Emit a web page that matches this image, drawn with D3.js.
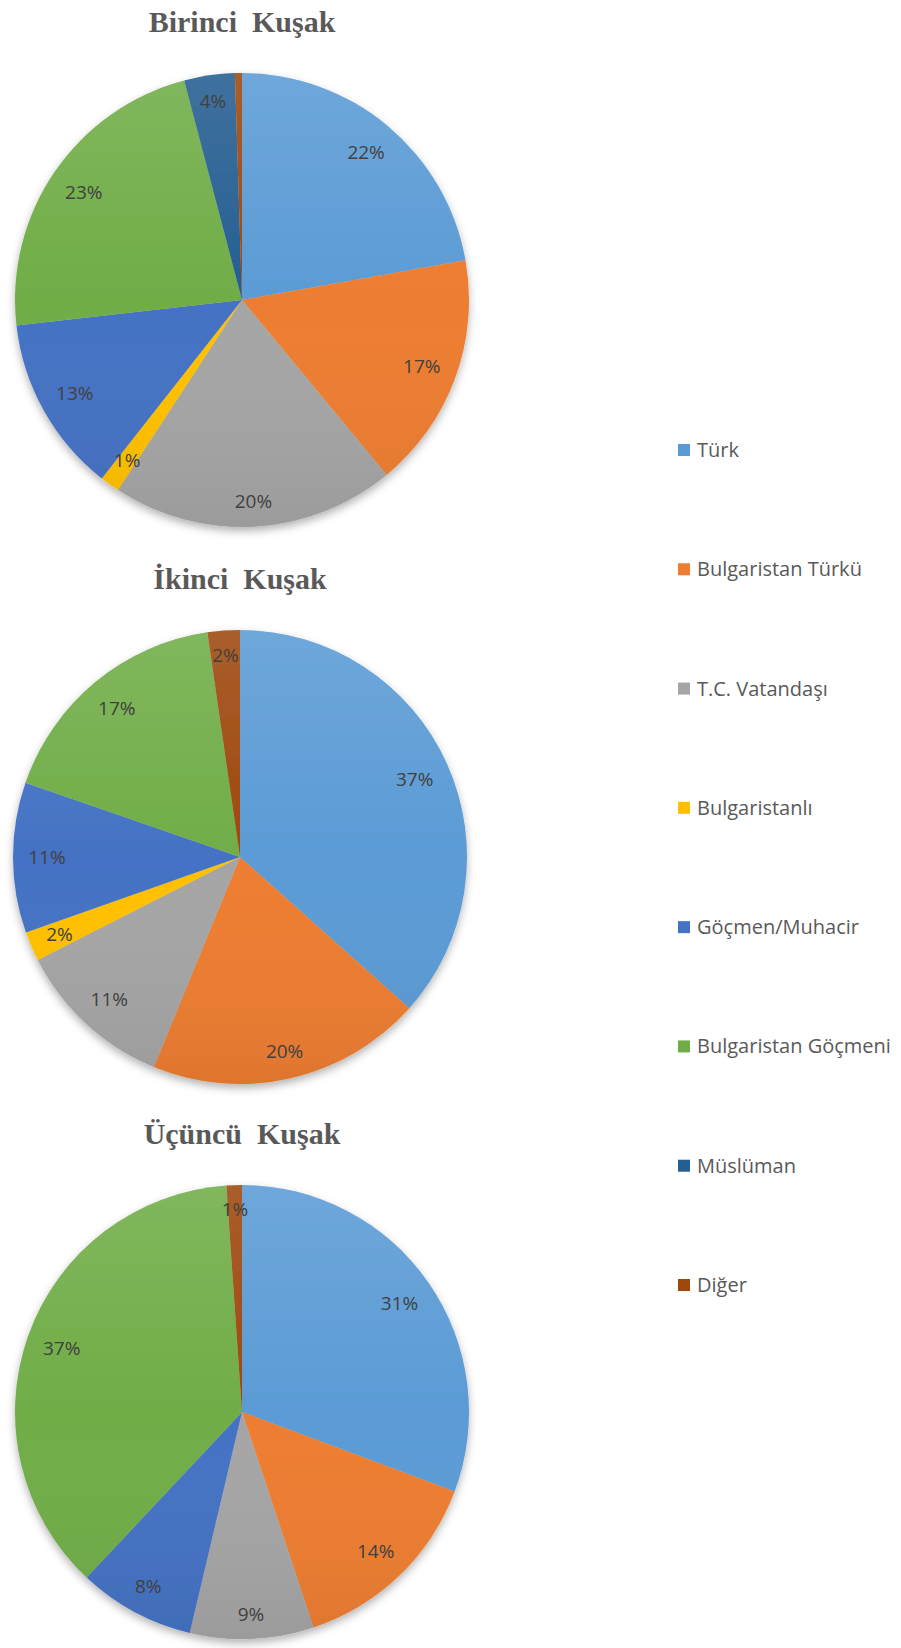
<!DOCTYPE html>
<html>
<head>
<meta charset="utf-8">
<script src="https://cdn.jsdelivr.net/npm/d3@7"></script>
<style>
body{margin:0;background:#fff}
</style>
</head>
<body>
<div id="chart"></div>
<script>
(function(){

var categories = ["Türk","Bulgaristan Türkü","T.C. Vatandaşı","Bulgaristanlı","Göçmen/Muhacir","Bulgaristan Göçmeni","Müslüman","Diğer"]
var catcolors = ["#5B9BD5","#ED7D31","#A5A5A5","#FFC000","#4472C4","#70AD47","#255E91","#9E480E"]

var titles = ["Birinci  Kuşak","İkinci  Kuşak","Üçüncü  Kuşak"]

// percentages
var birinci = [22.2,16.8,20.2,1.4,12.6,22.7,3.6,0.5]
var ikinci  = [36.6,19.6,11.3,2.1,10.7,17.4,0,2.3]
var ucuncu  = [30.7,14.2,8.8,0,8.3,36.9,0,1.1]

var birinciLabels = ["22%","17%","20%","1%","13%","23%","4%",""]
var ikinciLabels  = ["37%","20%","11%","2%","11%","17%","","2%"]
var ucuncuLabels  = ["31%","14%","9%","","8%","37%","","1%"]

var series = [birinci,ikinci,ucuncu]
var seriesLabels = [birinciLabels,ikinciLabels,ucuncuLabels]

var width = 901, height = 1648
var radius = 227
var centers = [{x:242,y:300},{x:240,y:857},{x:242,y:1412}]
var label_fs = 19
var legend_fs = 20

var color = d3.scaleOrdinal().domain(categories).range(catcolors)

var svg = d3.select("#chart").append("svg")
	.attr("width",width)
	.attr("height",height)

var defs = svg.append("defs")

defs.append("filter").attr("id","shadow")
	.attr("x","-10%").attr("y","-10%").attr("width","120%").attr("height","125%")
	.append("feDropShadow")
	.attr("dx",0).attr("dy",4)
	.attr("stdDeviation",4)
	.attr("flood-color","#000")
	.attr("flood-opacity",0.3)

var grad = defs.append("linearGradient").attr("id","sheen")
	.attr("x1",0).attr("y1",0).attr("x2",0).attr("y2",1)
grad.append("stop").attr("offset","0%").attr("stop-color","#fff").attr("stop-opacity",0.12)
grad.append("stop").attr("offset","50%").attr("stop-color","#fff").attr("stop-opacity",0)
grad.append("stop").attr("offset","100%").attr("stop-color","#000").attr("stop-opacity",0.06)

var pie = d3.pie().sort(null).value(function(d){return d.value})
var arc = d3.arc().innerRadius(0).outerRadius(radius)

series.forEach(function(values,k){

	var data = values.map(function(v,i){
		return {name:categories[i], value:v, label:seriesLabels[k][i]}
	})

	var g = svg.append("g")
		.attr("transform","translate("+centers[k].x+","+centers[k].y+")")

	g.append("text")
		.text(titles[k])
		.attr("y",-radius-41)
		.style("text-anchor","middle")
		.style("white-space","pre")
		.style("font-family","'Liberation Serif','Times New Roman',serif")
		.style("font-weight","bold")
		.style("font-size",30)
		.style("fill","#595959")

	var slices = g.append("g").attr("filter","url(#shadow)")

	slices.selectAll(".slice")
		.data(pie(data))
		.enter().append("path")
		.attr("class","slice")
		.attr("d",arc)
		.style("fill",function(d){return color(d.data.name)})

	slices.append("circle")
		.attr("r",radius)
		.style("fill","url(#sheen)")

	// labels placed at the inner end of each slice, like Excel's "inside end"
	var R = radius - 15
	pie(data).forEach(function(d){
		if (!d.data.label || d.value==0) return
		var a = (d.startAngle + d.endAngle)/2
		var ux = Math.sin(a), uy = -Math.cos(a)
		var t = g.append("text")
			.text(d.data.label)
			.style("text-anchor","middle")
			.attr("dy","0.36em")
			.style("font-family","'Open Sans',sans-serif")
			.style("font-size",label_fs)
			.style("fill","#404040")
		var hw = t.node().getComputedTextLength()/2
		var hh = 0.45*label_fs
		var cx = (ux>=0?1:-1)*hw, cy = (uy>=0?1:-1)*hh
		var uc = ux*cx + uy*cy
		var dist = -uc + Math.sqrt(uc*uc - (cx*cx+cy*cy) + R*R)
		t.attr("x",ux*dist).attr("y",uy*dist)
	})
})

var yl = d3.scalePoint().domain(categories).range([450,1285])

var legend = svg.selectAll(".legend").data(categories).enter()
	.append("g")
	.attr("class","legend")
	.attr("transform",function(d){return "translate(678,"+yl(d)+")"})

legend.append("rect")
	.attr("y",-6)
	.attr("width",12)
	.attr("height",12)
	.style("fill",function(d){return color(d)})

legend.append("text")
	.text(function(d){return d})
	.attr("x",19)
	.attr("dy","0.35em")
	.style("font-family","'Open Sans',sans-serif")
	.style("font-size",legend_fs)
	.style("fill","#595959")

})()
</script>
</body>
</html>
